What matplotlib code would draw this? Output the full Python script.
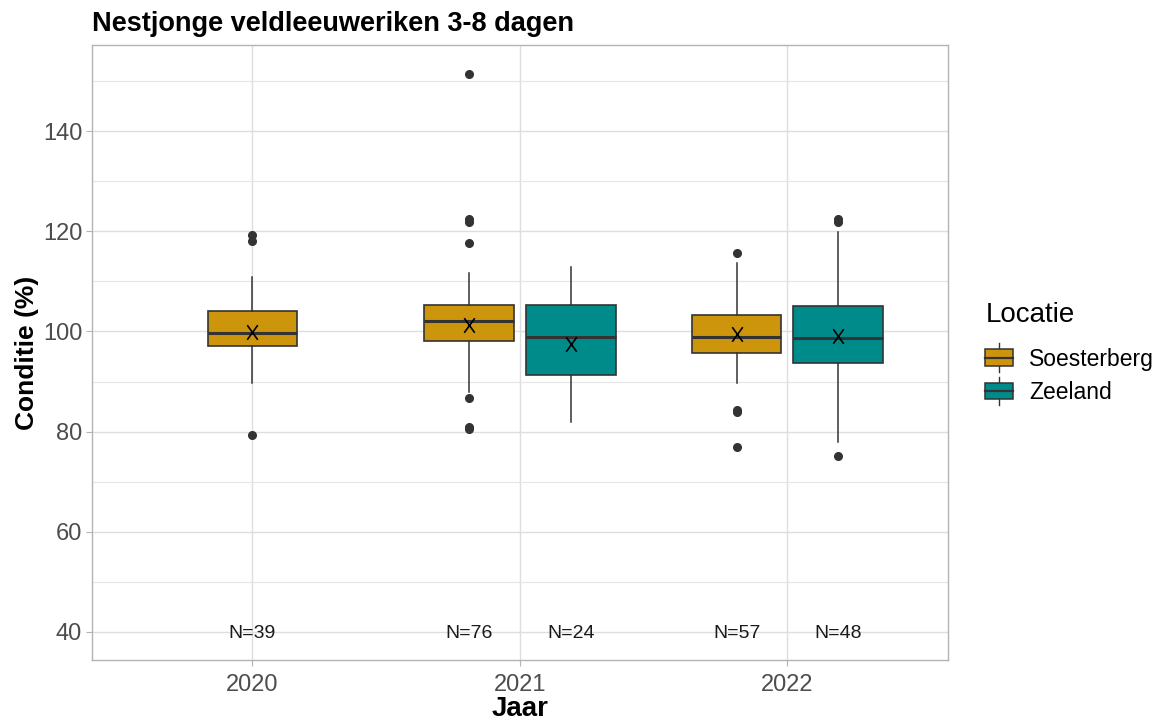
import numpy as np
import matplotlib.pyplot as plt
from matplotlib.patches import Rectangle
from matplotlib.lines import Line2D
from matplotlib.path import Path
from matplotlib.legend_handler import HandlerBase

plt.rcParams['font.family'] = ['Liberation Sans', 'DejaVu Sans']

years = ['2020', '2021', '2022']
locaties = ['Soesterberg', 'Zeeland']
colors = {'Soesterberg': '#CD950C', 'Zeeland': '#008B8B'}

# per box: jaar, locatie, kwartielen, whiskers, gemiddelde, uitschieters, N
groups = ['2020', '2021', '2021', '2022', '2022']
group_loc = ['Soesterberg', 'Soesterberg', 'Zeeland', 'Soesterberg', 'Zeeland']
q1 = [97.1, 98.1, 91.4, 95.7, 93.8]
med = [99.6, 102.0, 98.8, 98.9, 98.6]
q3 = [104.1, 105.3, 105.3, 103.2, 105.0]
whislo = [89.8, 88.0, 81.9, 89.8, 78.0]
whishi = [110.9, 111.6, 112.8, 113.7, 119.8]
means = [99.9, 101.3, 97.6, 99.4, 99.1]
fliers = [
    [119.2, 118.0, 79.3],
    [151.4, 122.4, 121.8, 117.7, 86.7, 81.0, 80.5],
    [],
    [115.7, 84.4, 84.0, 76.9],
    [122.5, 121.9, 75.1],
]
counts = [39, 76, 24, 57, 48]

dodge = 0.19
box_w = 0.335

# smal kruisje voor het gemiddelde
x_marker = Path([(-0.36, -0.5), (0.36, 0.5), (-0.36, 0.5), (0.36, -0.5)],
                [Path.MOVETO, Path.LINETO, Path.MOVETO, Path.LINETO])

fig = plt.figure(figsize=(11.64, 7.24), dpi=100)
ax = fig.add_axes([0.079, 0.0884, 0.7354, 0.8494])

edge = '#333333'
for i in range(len(groups)):
    xi = years.index(groups[i])
    n_in_year = groups.count(groups[i])
    if n_in_year > 1:
        pos = xi + (-dodge if group_loc[i] == 'Soesterberg' else dodge)
    else:
        pos = xi
    stats = [dict(q1=q1[i], med=med[i], q3=q3[i], whislo=whislo[i],
                  whishi=whishi[i], fliers=fliers[i], mean=means[i])]
    ax.bxp(stats, positions=[pos], widths=box_w, patch_artist=True,
           showcaps=False, showmeans=False,
           boxprops=dict(facecolor=colors[group_loc[i]], edgecolor=edge, linewidth=1.2),
           medianprops=dict(color=edge, linewidth=2.2),
           whiskerprops=dict(color=edge, linewidth=1.1),
           flierprops=dict(marker='o', markerfacecolor=edge, markeredgecolor=edge,
                           markersize=5.5),
           zorder=3)
    ax.plot([pos], [means[i]], marker=x_marker, markersize=10.5, color='#000000',
            markeredgewidth=1.2, linestyle='none', zorder=5)
    ax.text(pos, 40, 'N=%d' % counts[i], ha='center', va='center_baseline',
            fontsize=14, color='#1a1a1a', zorder=5)

ax.set_xlim(-0.6, 2.6)
ax.set_ylim(34.4, 157.2)
ax.set_xticks(range(len(years)))
ax.set_xticklabels(years)
ax.set_yticks(np.arange(40, 141, 20))
ax.set_yticks(np.arange(50, 151, 20), minor=True)

ax.grid(True, which='major', color='#DEDEDE', linewidth=1.0, zorder=0)
ax.grid(True, which='minor', axis='y', color='#E5E5E5', linewidth=0.8, zorder=0)
ax.set_axisbelow(True)
for sp in ax.spines.values():
    sp.set_color('#B3B3B3')
    sp.set_linewidth(1.0)
ax.tick_params(axis='both', which='major', colors='#B3B3B3', labelcolor='#4D4D4D',
               labelsize=17, length=4, pad=3)
ax.tick_params(axis='x', which='major', pad=6)
ax.tick_params(axis='y', which='minor', length=0)

ax.set_xlabel('Jaar', fontsize=20, fontweight='bold', labelpad=0)
ax.set_ylabel('Conditie (%)', fontsize=19, fontweight='bold', labelpad=3)
ax.set_title('Nestjonge veldleeuweriken 3-8 dagen', fontsize=19.5, fontweight='bold',
             loc='left', pad=10, x=0.0)


class BoxKey(HandlerBase):
    def create_artists(self, legend, orig_handle, xdescent, ydescent,
                       width, height, fontsize, trans):
        fc = orig_handle.get_facecolor()
        x0, x1 = -xdescent, -xdescent + width
        y0, y1 = -ydescent, -ydescent + height
        ym = (y0 + y1) / 2
        xm = (x0 + x1) / 2
        rect = Rectangle((x0, y0), x1 - x0, y1 - y0, facecolor=fc,
                         edgecolor=edge, linewidth=1.1, transform=trans)
        mline = Line2D([x0, x1], [ym, ym], color=edge, linewidth=1.6, transform=trans)
        wtop = Line2D([xm, xm], [y1, y1 + 0.35 * height], color=edge,
                      linewidth=1.0, transform=trans)
        wbot = Line2D([xm, xm], [y0, y0 - 0.35 * height], color=edge,
                      linewidth=1.0, transform=trans)
        return [wtop, wbot, rect, mline]


handles = [Rectangle((0, 0), 1, 1, facecolor=colors[l]) for l in locaties]
leg = fig.legend(handles, locaties, title='Locatie', handler_map={Rectangle: BoxKey()},
                 loc='upper left', bbox_to_anchor=(0.8465, 0.5825), frameon=False,
                 borderpad=0, borderaxespad=0,
                 fontsize=16.5, title_fontsize=20, handlelength=1.2,
                 handleheight=0.75, handletextpad=0.7, labelspacing=0.45)
leg._legend_box.align = 'left'
leg._legend_box.sep = 14

fig.savefig('out.png', dpi=100)
